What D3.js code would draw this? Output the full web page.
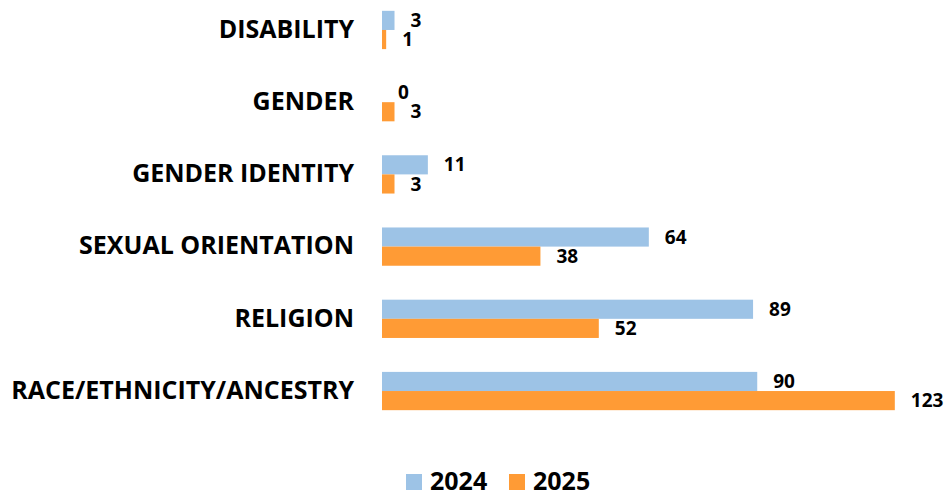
<!DOCTYPE html>
<html>
<head>
<meta charset="utf-8">
<script src="https://cdn.jsdelivr.net/npm/d3@7"></script>
<style>
  body { margin: 0; background: #fff; }
  text { font-family: "Open Sans", Lato, sans-serif; font-weight: bold; fill: #000; }
  .cat { font-size: 25px; }
  .val { font-size: 19px; }
  .leg { font-size: 25px; }
</style>
</head>
<body>
<script>
// data
const categories = ["DISABILITY", "GENDER", "GENDER IDENTITY", "SEXUAL ORIENTATION", "RELIGION", "RACE/ETHNICITY/ANCESTRY"];
const series = ["2024", "2025"];
const values2024 = [3, 0, 11, 64, 89, 90];
const values2025 = [1, 3, 3, 38, 52, 123];
const colors = ["#9dc3e6", "#ff9b35"];

const w = 950, h = 493;

const rows = categories.map((c, i) => ({cat: c, vals: [values2024[i], values2025[i]]}));

const svg = d3.select("body").append("svg")
  .attr("width", w)
  .attr("height", h);

// scales
const x = d3.scaleLinear()
  .domain([0, 130])
  .range([382, 924]);

const y = d3.scaleBand()
  .domain(categories)
  .range([0, 421])
  .paddingInner(0.47)
  .paddingOuter(0.15);

const ySub = d3.scaleBand()
  .domain(series)
  .range([0, y.bandwidth()]);

// category labels
svg.append("g").selectAll("text")
  .data(categories)
  .enter().append("text")
  .attr("class", "cat")
  .attr("x", 354)
  .attr("y", d => y(d) + y.bandwidth() / 2 + 1)
  .attr("text-anchor", "end")
  .attr("dominant-baseline", "middle")
  .text(d => d);

// bars
const groups = svg.append("g").selectAll("g")
  .data(rows)
  .enter().append("g")
  .attr("transform", d => "translate(0," + y(d.cat) + ")");

groups.selectAll("rect")
  .data(d => d.vals.map((v, j) => ({v: v, s: series[j], j: j})))
  .enter().append("rect")
  .attr("x", x(0))
  .attr("y", d => ySub(d.s))
  .attr("width", d => x(d.v) - x(0))
  .attr("height", ySub.bandwidth())
  .attr("fill", d => colors[d.j]);

groups.selectAll("text")
  .data(d => d.vals.map((v, j) => ({v: v, s: series[j], j: j})))
  .enter().append("text")
  .attr("class", "val")
  .attr("x", d => x(d.v) + 16)
  .attr("y", d => ySub(d.s) + ySub.bandwidth() / 2 + 1.5)
  .attr("dominant-baseline", "middle")
  .text(d => d.v);

// legend
const legend = svg.append("g").attr("transform", "translate(406,474)");
const li = legend.selectAll("g")
  .data(series)
  .enter().append("g")
  .attr("transform", (d, i) => "translate(" + (i * 103) + ",0)");
li.append("rect")
  .attr("width", 16)
  .attr("height", 16)
  .attr("fill", (d, i) => colors[i]);
li.append("text")
  .attr("class", "leg")
  .attr("x", 24)
  .attr("y", 16)
  .text(d => d);
</script>
</body>
</html>
